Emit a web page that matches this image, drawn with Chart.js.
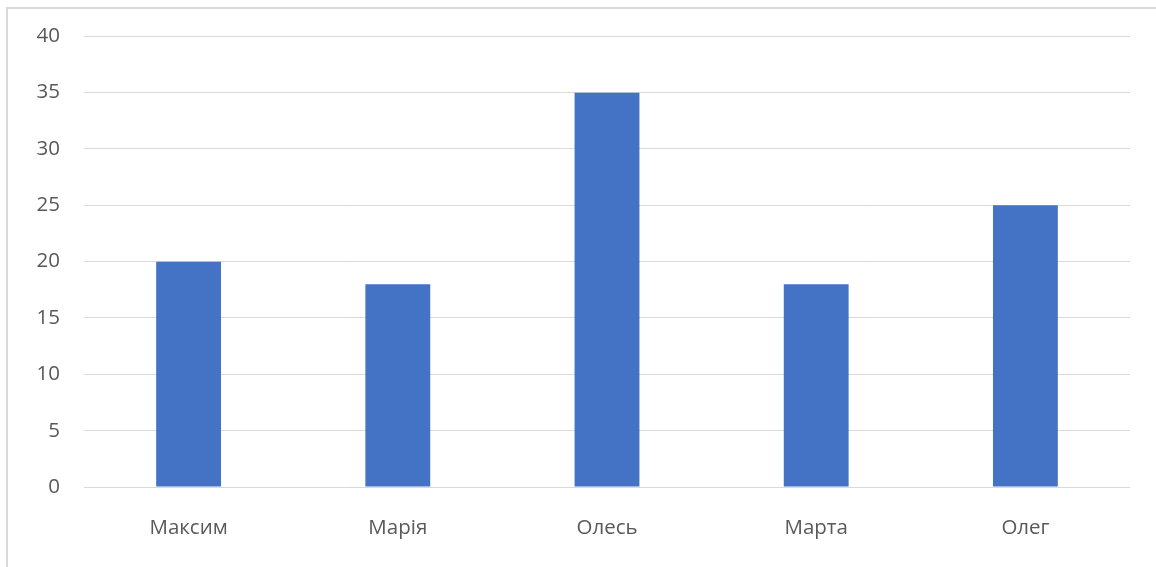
<!DOCTYPE html>
<html><head><meta charset="utf-8">
<script src="https://cdn.jsdelivr.net/npm/chart.js@4/dist/chart.umd.min.js"></script>
<style>
html,body{margin:0;padding:0;background:#fff;overflow:hidden}
#wrap{position:relative;width:1156px;height:567px}
#frame{position:absolute;left:6px;top:7px;width:1200px;height:600px;border:2px solid #d9d9d9;box-sizing:border-box}
canvas{position:absolute;left:0;top:0}
</style></head>
<body><div id="wrap"><div id="frame"></div><canvas id="c" width="1156" height="567"></canvas></div>
<script>
const categories = ["Максим", "Марія", "Олесь", "Марта", "Олег"];
const values = [20, 18, 35, 18, 25];
const yTicks = [0, 5, 10, 15, 20, 25, 30, 35, 40];

const font = {family: "'Open Sans', sans-serif", size: 20.5};
new Chart(document.getElementById('c'), {
  type: 'bar',
  data: {labels: categories, datasets: [{data: values, backgroundColor: '#4472C4', categoryPercentage: 1, barPercentage: 0.31}]},
  options: {
    responsive: false, animation: false, devicePixelRatio: 1,
    layout: {padding: {left: 0, top: 36, right: 26, bottom: 0}},
    plugins: {legend: {display: false}, tooltip: {enabled: false}},
    scales: {
      x: {
        grid: {display: false, drawTicks: false},
        border: {display: false},
        ticks: {color: '#595959', font: font, padding: 29},
        afterFit: s => { s.height = 80; }
      },
      y: {
        min: 0, max: 40,
        afterBuildTicks: s => { s.ticks = yTicks.map(v => ({value: v})); },
        grid: {color: '#d9d9d9', lineWidth: 1, drawTicks: false},
        border: {display: false},
        ticks: {color: '#595959', font: font, padding: 24},
        afterFit: s => { s.width = 84; }
      }
    }
  }
});
</script></body></html>
